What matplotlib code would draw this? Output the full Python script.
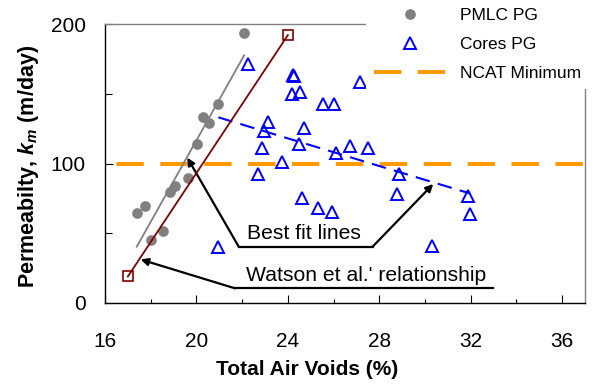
import matplotlib
matplotlib.use('Agg')
import matplotlib.pyplot as plt
import numpy as np
from matplotlib.lines import Line2D
from matplotlib.ticker import MultipleLocator

plt.rcParams['font.family'] = ['Liberation Sans', 'DejaVu Sans']
plt.rcParams['mathtext.fontset'] = 'custom'
plt.rcParams['mathtext.it'] = 'Liberation Sans:bold:italic'
plt.rcParams['mathtext.rm'] = 'Liberation Sans:bold'
plt.rcParams['mathtext.bf'] = 'Liberation Sans:bold'

# ---- data ----
pmlc_voids = [22.09, 20.96, 20.27, 20.55, 20.01, 19.64, 19.06, 18.84, 17.75, 17.39, 18.52, 18.00]
pmlc_perm = [193.8, 142.4, 133.5, 129.3, 113.8, 89.4, 84.1, 79.8, 69.5, 64.3, 51.8, 45.2]

cores_voids = [22.27, 24.21, 24.28, 24.17, 24.53, 25.55, 26.03, 27.15, 23.14, 22.97,
               22.85, 23.73, 22.68, 24.70, 24.50, 26.09, 26.72, 27.49, 24.60, 25.30,
               25.92, 20.96, 28.88, 28.76, 31.90, 31.97, 30.29]
cores_perm = [171.3, 163.4, 162.4, 149.6, 151.0, 142.4, 142.4, 158.4, 129.7, 123.5,
              111.3, 100.9, 92.5, 125.7, 113.8, 107.3, 112.8, 111.3, 75.1, 67.9,
              65.5, 39.9, 92.5, 78.1, 76.9, 63.8, 40.9]

watson_voids = [17.0, 24.0]
watson_perm = [19.0, 192.0]

ncat_min = 100

x_ticks = [16, 20, 24, 28, 32, 36]
y_ticks = [0, 100, 200]

labels = ['PMLC PG', 'Cores PG', 'NCAT Minimum']

# ---- figure ----
fig = plt.figure(figsize=(6.03, 3.88), dpi=100)
ax = fig.add_axes([105/603, 85/388, 480/603, 279/388])

gray = '#808080'
blue = '#0000FF'
orange = '#FF9900'
maroon = '#800000'

ax.axhline(ncat_min, color=orange, lw=2.9, linestyle=(8.07, (6.8, 4.1)), zorder=1)

# best fit lines
px = np.array(pmlc_voids); py = np.array(pmlc_perm)
cp = np.polyfit(px, py, 1)
xs = np.array([px.min(), px.max()])
ax.plot(xs, np.polyval(cp, xs), color=gray, lw=1.3, zorder=2)

cx = np.array(cores_voids); cy = np.array(cores_perm)
cc = np.polyfit(cx, cy, 1)
xs2 = np.array([cx.min(), cx.max()])
ax.plot(xs2, np.polyval(cc, xs2), color=blue, lw=1.5, linestyle=(0, (7, 4)), zorder=2)

ax.plot(pmlc_voids, pmlc_perm, 'o', color=gray, markersize=7.7, markeredgewidth=0, zorder=3)
ax.plot(cores_voids, cores_perm, '^', color=blue, markerfacecolor='none',
        markersize=8.3, markeredgewidth=1.4, zorder=3)

ax.plot(watson_voids, watson_perm, color=maroon, lw=1.3, marker='s', markersize=6.8,
        markerfacecolor='none', markeredgewidth=1.2, zorder=4)

# annotations
kw = dict(color='k', lw=1.6, clip_on=False, zorder=5)
ax.plot([21.85, 27.71], [40.4, 40.4], **kw)
ax.plot([21.69, 32.99], [10.5, 10.5], **kw)
ap = dict(arrowstyle='-|>', color='k', lw=1.6, shrinkA=0, shrinkB=0, mutation_scale=11)
ax.annotate('', xy=(19.6, 104.2), xytext=(21.85, 40.4), arrowprops=ap)
ax.annotate('', xy=(30.36, 85.3), xytext=(27.71, 40.4), arrowprops=ap)
ax.annotate('', xy=(17.56, 31.2), xytext=(21.69, 10.5), arrowprops=ap)
ax.text(24.7, 43.0, 'Best fit lines', ha='center', va='bottom', fontsize=15.2)
ax.text(27.43, 13.0, "Watson et al.' relationship", ha='center', va='bottom', fontsize=15.2)

# axes
ax.set_xlim(16, 37)
ax.set_ylim(0, 200)
ax.set_xticks(x_ticks)
ax.set_yticks(y_ticks)
ax.xaxis.set_minor_locator(MultipleLocator(2))
ax.yaxis.set_minor_locator(MultipleLocator(50))
ax.tick_params(which='both', direction='in', top=False, right=False, width=0.8, color='k')
ax.tick_params(axis='x', which='major', length=5.5, pad=21, labelsize=15)
ax.tick_params(axis='x', which='minor', length=3.2)
ax.tick_params(axis='y', which='major', length=5.5, pad=14, labelsize=15)
ax.tick_params(axis='y', which='minor', length=5)

for s in ['left', 'bottom']:
    ax.spines[s].set_color('k'); ax.spines[s].set_linewidth(1.0)
for s in ['top', 'right']:
    ax.spines[s].set_color(gray); ax.spines[s].set_linewidth(1.0)

ax.set_xlabel('Total Air Voids (%)', fontsize=15, fontweight='bold', va='center')
ax.xaxis.set_label_coords(0.422, -0.240)
ax.set_ylabel(r'Permeabilty, $k_m$ (m/day)', fontsize=15.5, fontweight='bold', va='center')
ax.yaxis.set_label_coords(-0.160, 0.491)

handles = [
    Line2D([], [], marker='o', color=gray, ls='none', markersize=7.7, markeredgewidth=0),
    Line2D([], [], marker='^', color=blue, ls='none', markersize=8.3,
           markerfacecolor='none', markeredgewidth=1.4),
    Line2D([], [], color=orange, lw=2.9, linestyle=(0, (6.8, 4.1))),
]
leg = ax.legend(handles, labels, loc='upper left', bbox_to_anchor=(366/603, 1.0),
                bbox_transform=fig.transFigure, frameon=True, facecolor='white',
                edgecolor='none', framealpha=1, fancybox=False, borderpad=0.46,
                handlelength=4.1, handletextpad=0.86, labelspacing=0.8,
                fontsize=12.5, borderaxespad=0)
leg.set_zorder(10)

fig.savefig('out.png', dpi=100)
